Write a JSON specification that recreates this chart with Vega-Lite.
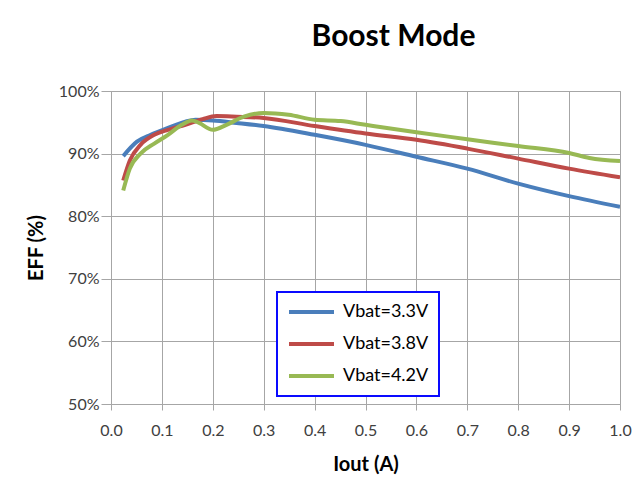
{
  "$schema": "https://vega.github.io/schema/vega-lite/v6.json",
  "autosize": {"type": "none"},
  "width": 509,
  "height": 313,
  "padding": {"left": 111, "top": 91, "right": 24, "bottom": 89},
  "background": "white",
  "title": {"text": "Boost Mode", "font": "Lato", "fontSize": 30, "fontWeight": "bold", "color": "#000000", "anchor": "middle", "dx": 28, "offset": 31},
  "config": {
    "font": "Lato",
    "view": {"stroke": "#a6a6a6", "strokeWidth": 1},
    "axis": {"gridColor": "#a6a6a6", "gridWidth": 1, "domainColor": "#a6a6a6", "tickColor": "#a6a6a6", "labelColor": "#404040", "labelFont": "Lato", "labelFontSize": 16, "titleFont": "Lato", "titleFontSize": 20, "titleFontWeight": "bold", "titleColor": "#000000"}
  },
  "data": {"values": [
    {"v": "Vbat=3.3V", "x": 0.024, "y": 89.6},
    {"v": "Vbat=3.3V", "x": 0.051, "y": 91.9},
    {"v": "Vbat=3.3V", "x": 0.078, "y": 93.0},
    {"v": "Vbat=3.3V", "x": 0.112, "y": 94.1},
    {"v": "Vbat=3.3V", "x": 0.146, "y": 95.1},
    {"v": "Vbat=3.3V", "x": 0.166, "y": 95.4},
    {"v": "Vbat=3.3V", "x": 0.2, "y": 95.3},
    {"v": "Vbat=3.3V", "x": 0.247, "y": 94.9},
    {"v": "Vbat=3.3V", "x": 0.3, "y": 94.4},
    {"v": "Vbat=3.3V", "x": 0.4, "y": 93.0},
    {"v": "Vbat=3.3V", "x": 0.5, "y": 91.4},
    {"v": "Vbat=3.3V", "x": 0.6, "y": 89.5},
    {"v": "Vbat=3.3V", "x": 0.7, "y": 87.6},
    {"v": "Vbat=3.3V", "x": 0.8, "y": 85.2},
    {"v": "Vbat=3.3V", "x": 0.9, "y": 83.2},
    {"v": "Vbat=3.3V", "x": 1.0, "y": 81.5},
    {"v": "Vbat=3.8V", "x": 0.024, "y": 85.7},
    {"v": "Vbat=3.8V", "x": 0.037, "y": 88.9},
    {"v": "Vbat=3.8V", "x": 0.058, "y": 91.4},
    {"v": "Vbat=3.8V", "x": 0.085, "y": 93.0},
    {"v": "Vbat=3.8V", "x": 0.112, "y": 93.8},
    {"v": "Vbat=3.8V", "x": 0.146, "y": 94.6},
    {"v": "Vbat=3.8V", "x": 0.18, "y": 95.5},
    {"v": "Vbat=3.8V", "x": 0.207, "y": 96.0},
    {"v": "Vbat=3.8V", "x": 0.247, "y": 95.9},
    {"v": "Vbat=3.8V", "x": 0.3, "y": 95.7},
    {"v": "Vbat=3.8V", "x": 0.4, "y": 94.4},
    {"v": "Vbat=3.8V", "x": 0.5, "y": 93.2},
    {"v": "Vbat=3.8V", "x": 0.6, "y": 92.2},
    {"v": "Vbat=3.8V", "x": 0.7, "y": 90.8},
    {"v": "Vbat=3.8V", "x": 0.8, "y": 89.2},
    {"v": "Vbat=3.8V", "x": 0.9, "y": 87.6},
    {"v": "Vbat=3.8V", "x": 1.0, "y": 86.2},
    {"v": "Vbat=4.2V", "x": 0.024, "y": 84.1},
    {"v": "Vbat=4.2V", "x": 0.037, "y": 87.6},
    {"v": "Vbat=4.2V", "x": 0.058, "y": 90.0},
    {"v": "Vbat=4.2V", "x": 0.085, "y": 91.6},
    {"v": "Vbat=4.2V", "x": 0.112, "y": 93.0},
    {"v": "Vbat=4.2V", "x": 0.139, "y": 94.6},
    {"v": "Vbat=4.2V", "x": 0.159, "y": 95.3},
    {"v": "Vbat=4.2V", "x": 0.173, "y": 94.9},
    {"v": "Vbat=4.2V", "x": 0.2, "y": 93.8},
    {"v": "Vbat=4.2V", "x": 0.227, "y": 94.6},
    {"v": "Vbat=4.2V", "x": 0.261, "y": 95.9},
    {"v": "Vbat=4.2V", "x": 0.3, "y": 96.5},
    {"v": "Vbat=4.2V", "x": 0.349, "y": 96.2},
    {"v": "Vbat=4.2V", "x": 0.4, "y": 95.4},
    {"v": "Vbat=4.2V", "x": 0.451, "y": 95.2},
    {"v": "Vbat=4.2V", "x": 0.5, "y": 94.6},
    {"v": "Vbat=4.2V", "x": 0.6, "y": 93.4},
    {"v": "Vbat=4.2V", "x": 0.7, "y": 92.3},
    {"v": "Vbat=4.2V", "x": 0.8, "y": 91.2},
    {"v": "Vbat=4.2V", "x": 0.9, "y": 90.1},
    {"v": "Vbat=4.2V", "x": 0.94, "y": 89.3},
    {"v": "Vbat=4.2V", "x": 1.0, "y": 88.8}
  ]},
  "mark": {"type": "line", "interpolate": "monotone", "strokeWidth": 4, "clip": true},
  "encoding": {
    "x": {"field": "x", "type": "quantitative", "title": "Iout (A)",
      "scale": {"domain": [0, 1], "nice": false, "zero": false},
      "axis": {"values": [0, 0.1, 0.2, 0.3, 0.4, 0.5, 0.6, 0.7, 0.8, 0.9, 1.0], "format": ".1f", "tickSize": 6, "labelPadding": 12, "titlePadding": 16, "labelFlush": false}},
    "y": {"field": "y", "type": "quantitative", "title": "EFF (%)",
      "scale": {"domain": [50, 100], "nice": false, "zero": false},
      "axis": {"values": [50, 60, 70, 80, 90, 100], "labelExpr": "datum.value + '%'", "tickSize": 10, "labelPadding": 2, "titlePadding": 12}},
    "color": {"field": "v", "type": "nominal",
      "scale": {"domain": ["Vbat=3.3V", "Vbat=3.8V", "Vbat=4.2V"], "range": ["#4a7ebb", "#be4b48", "#98b954"]},
      "legend": {"title": null, "orient": "none", "legendX": 166, "legendY": 201, "strokeColor": "#0a0aff", "fillColor": "white", "padding": 10, "symbolType": "stroke", "symbolSize": 2025, "symbolStrokeWidth": 4, "clipHeight": 20, "rowPadding": 12, "labelFontSize": 18, "labelColor": "#000000", "labelOffset": 7,
        "encode": {"legend": {"update": {"strokeWidth": {"value": 2}}}}}}
  }
}
